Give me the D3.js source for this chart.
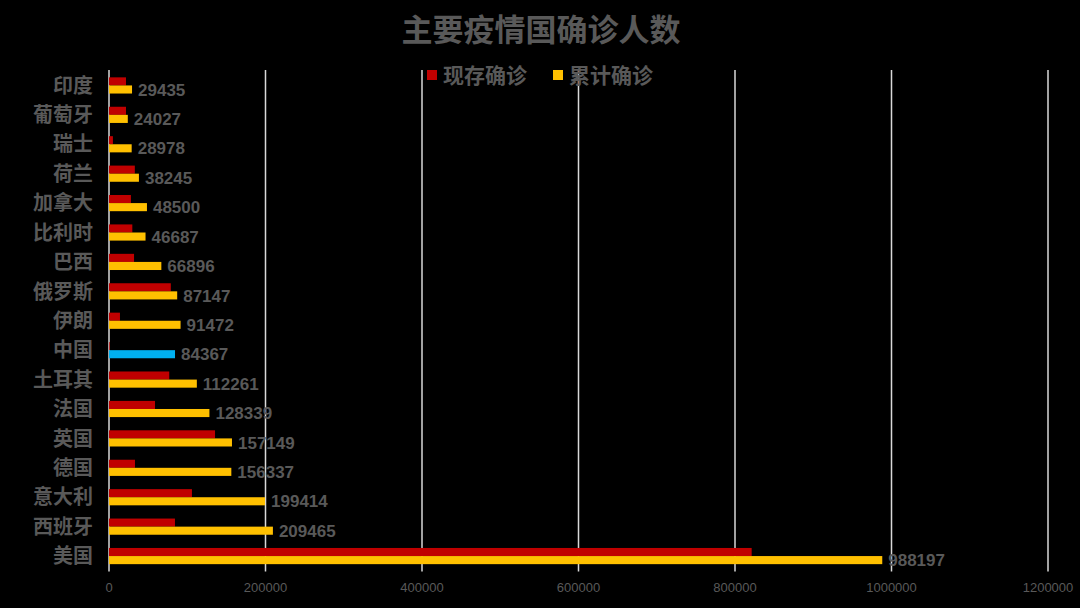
<!DOCTYPE html>
<html>
<head>
<meta charset="utf-8">
<script src="https://cdn.jsdelivr.net/npm/d3@7"></script>
<style>
  body { margin: 0; background: #000; }
  svg text { font-family: "Liberation Sans", "Noto Sans CJK SC", sans-serif; }
</style>
</head>
<body>
<div id="chart"></div>
<script>
// data, top row first
const countries = ['印度', '葡萄牙', '瑞士', '荷兰', '加拿大', '比利时', '巴西', '俄罗斯', '伊朗',
  '中国', '土耳其', '法国', '英国', '德国', '意大利', '西班牙', '美国'];
const current = [21700, 21700, 5000, 33000, 28000, 29800, 32000, 79000, 14000,
  900, 77000, 58800, 135500, 33200, 106000, 84300, 821300];
const total = [29435, 24027, 28978, 38245, 48500, 46687, 66896, 87147, 91472,
  84367, 112261, 128339, 157149, 156337, 199414, 209465, 988197];
const xTicks = [0, 200000, 400000, 600000, 800000, 1000000, 1200000];
const seriesNames = ['现存确诊', '累计确诊'];

const width = 1080, height = 608;
const margin = {top: 70, right: 32, bottom: 36.5, left: 109};
const textColor = '#595959';
const colors = {current: '#C00000', total: '#FFC000', china: '#00B0F0'};

const svg = d3.select('#chart').append('svg')
  .attr('width', width)
  .attr('height', height);

const x = d3.scaleLinear()
  .domain([0, 1200000])
  .range([margin.left, margin.left + 939]);

const y = d3.scaleBand()
  .domain(countries)
  .range([margin.top, height - margin.bottom])
  .paddingInner(0.45)
  .paddingOuter(0.25);

const sub = d3.scaleBand()
  .domain(['current', 'total'])
  .range([0, y.bandwidth()]);

// grid lines
svg.append('g').classed('grid', true)
  .selectAll('line')
  .data(xTicks)
  .enter()
  .append('line')
  .attr('x1', d => x(d))
  .attr('x2', d => x(d))
  .attr('y1', margin.top)
  .attr('y2', height - margin.bottom)
  .style('stroke', '#d9d9d9')
  .style('stroke-width', 1.5);

// tick labels
svg.append('g').classed('ticks', true)
  .selectAll('text')
  .data(xTicks)
  .enter()
  .append('text')
  .attr('x', d => x(d))
  .attr('y', height - margin.bottom + 20)
  .attr('text-anchor', 'middle')
  .style('font-size', '13px')
  .style('fill', textColor)
  .text(d => d);

// bars
const rows = countries.map((c, i) => ({country: c, current: current[i], total: total[i]}));

svg.append('g').classed('current', true)
  .selectAll('rect')
  .data(rows)
  .enter()
  .append('rect')
  .attr('x', x(0))
  .attr('y', d => y(d.country) + sub('current'))
  .attr('width', d => x(d.current) - x(0))
  .attr('height', sub.bandwidth())
  .style('fill', colors.current);

svg.append('g').classed('total', true)
  .selectAll('rect')
  .data(rows)
  .enter()
  .append('rect')
  .attr('x', x(0))
  .attr('y', d => y(d.country) + sub('total'))
  .attr('width', d => x(d.total) - x(0))
  .attr('height', sub.bandwidth())
  .style('fill', d => d.country === '中国' ? colors.china : colors.total);

// value labels on the total series
svg.append('g').classed('labels', true)
  .selectAll('text')
  .data(rows)
  .enter()
  .append('text')
  .attr('x', d => x(d.total) + 6)
  .attr('y', d => y(d.country) + sub('total') + sub.bandwidth() / 2)
  .attr('dy', '0.36em')
  .style('font-size', '17px')
  .style('font-weight', 'bold')
  .style('fill', textColor)
  .text(d => d.total);

// category labels
svg.append('g').classed('categories', true)
  .selectAll('text')
  .data(countries)
  .enter()
  .append('text')
  .attr('x', 93)
  .attr('y', d => y(d) + y.bandwidth() / 2)
  .attr('dy', '0.36em')
  .attr('text-anchor', 'end')
  .style('font-size', '20px')
  .style('font-weight', 'bold')
  .style('fill', textColor)
  .text(d => d);

// title
svg.append('text')
  .attr('x', 541)
  .attr('y', 41)
  .attr('text-anchor', 'middle')
  .style('font-size', '31px')
  .style('font-weight', 'bold')
  .style('fill', textColor)
  .text('主要疫情国确诊人数');

// legend
const legend = svg.append('g').classed('legend', true)
  .selectAll('g')
  .data(seriesNames)
  .enter()
  .append('g')
  .attr('transform', (d, i) => `translate(${427 + i * 126}, 75)`);

legend.append('rect')
  .attr('x', 0)
  .attr('y', -5)
  .attr('width', 10)
  .attr('height', 10)
  .style('fill', (d, i) => i === 0 ? colors.current : colors.total);

legend.append('text')
  .attr('x', 16)
  .attr('y', 0)
  .attr('dy', '0.36em')
  .style('font-size', '21px')
  .style('font-weight', 'bold')
  .style('fill', textColor)
  .text(d => d);
</script>
</body>
</html>
